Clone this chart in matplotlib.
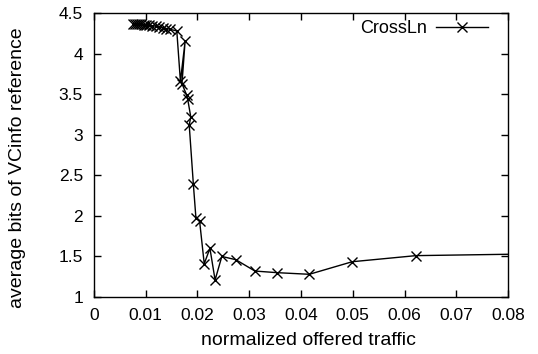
import matplotlib
matplotlib.use('Agg')
import matplotlib.pyplot as plt

plt.rcParams['font.family'] = ['Liberation Sans', 'DejaVu Sans']
plt.rcParams['font.size'] = 12.5

# CrossLn series
traffic = [0.0075, 0.0079, 0.0083, 0.0087, 0.0091, 0.0096, 0.0101, 0.0107,
           0.0113, 0.0119, 0.0126, 0.0133, 0.0140, 0.0147, 0.0160,
           0.0167, 0.0176, 0.0170, 0.0179, 0.0181, 0.0187, 0.0184,
           0.0192, 0.0197, 0.0204, 0.0213, 0.0224, 0.0234, 0.0247,
           0.0274, 0.0311, 0.0354, 0.0416, 0.0499, 0.0622, 0.0833]
bits = [4.37, 4.37, 4.36, 4.36, 4.36, 4.35, 4.35, 4.35,
        4.34, 4.34, 4.33, 4.32, 4.31, 4.30, 4.28,
        3.66, 4.15, 3.63, 3.49, 3.44, 3.22, 3.12,
        2.39, 1.97, 1.94, 1.41, 1.60, 1.21, 1.50,
        1.46, 1.32, 1.30, 1.28, 1.435, 1.51, 1.53]

xticks = [0, 0.01, 0.02, 0.03, 0.04, 0.05, 0.06, 0.07, 0.08]
xticklabels = ['0', '0.01', '0.02', '0.03', '0.04', '0.05', '0.06', '0.07', '0.08']
yticks = [1, 1.5, 2, 2.5, 3, 3.5, 4, 4.5]
yticklabels = ['1', '1.5', '2', '2.5', '3', '3.5', '4', '4.5']

fig = plt.figure(figsize=(5.38, 3.54), dpi=100)
ax = fig.add_axes([0.1747, 0.161, 0.7696, 0.802])

ax.plot(traffic, bits, color='black', lw=1, marker='x', ms=7, mew=1,
        label='CrossLn')

ax.set_xlim(0, 0.08)
ax.set_ylim(1, 4.5)
ax.set_xticks(xticks)
ax.set_xticklabels(xticklabels)
ax.set_yticks(yticks)
ax.set_yticklabels(yticklabels)
ax.tick_params(direction='in', top=True, right=True, length=5, width=1, pad=8)
for s in ax.spines.values():
    s.set_linewidth(1)

ax.set_xlabel('normalized offered traffic', fontsize=14)
ax.set_ylabel('average bits of VCinfo reference', fontsize=14)
ax.xaxis.set_label_coords(0.519, -0.125)
ax.yaxis.set_label_coords(-0.164, 0.455)

ax.legend(loc='upper right', bbox_to_anchor=(0.97, 1.0), frameon=False,
          markerfirst=False, handlelength=2.9, borderpad=0.1,
          borderaxespad=0.3, handletextpad=0.5, fontsize=13)

fig.savefig('out.png', dpi=100)
